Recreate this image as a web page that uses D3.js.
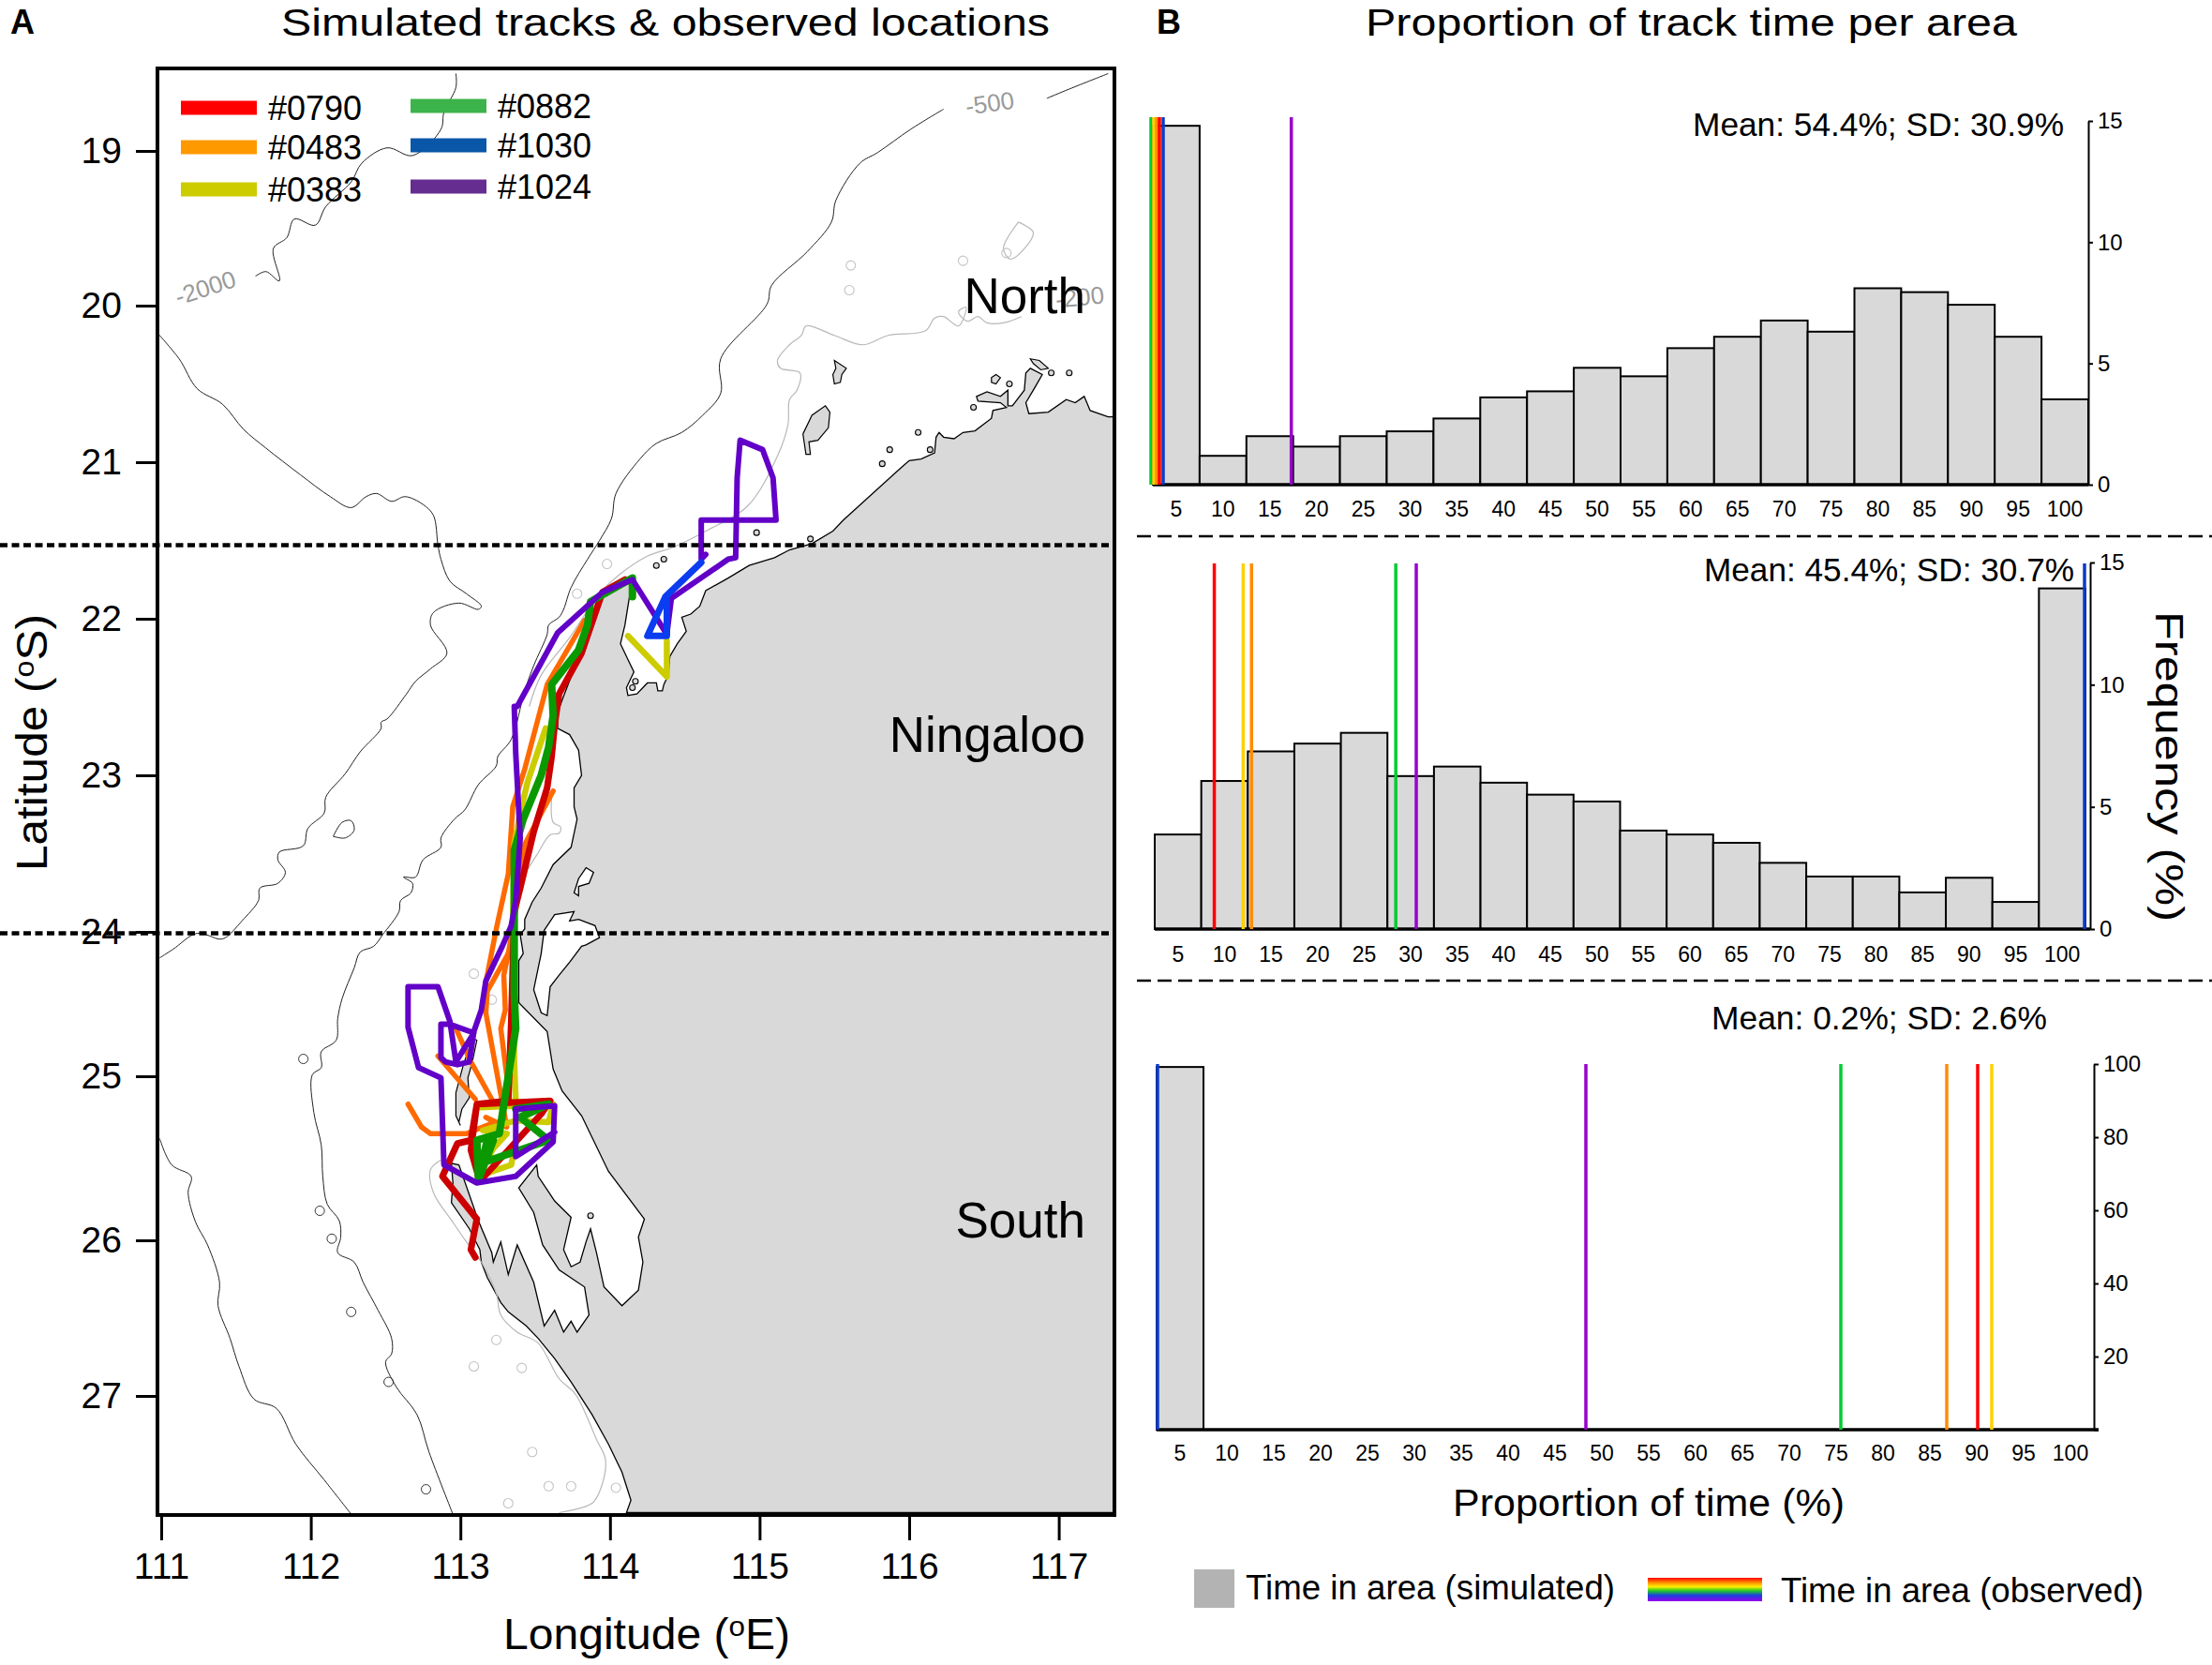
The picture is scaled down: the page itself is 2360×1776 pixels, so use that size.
<!DOCTYPE html>
<html><head><meta charset="utf-8">
<script src="https://d3js.org/d3.v7.min.js"></script>
<style>html,body{margin:0;padding:0;background:#fff}svg{display:block}text{font-family:"Liberation Sans",Arial,sans-serif;fill:#000}</style>
</head><body>
<script>
// ---------- map data (lon, lat) ----------
const lonTicks=[111,112,113,114,115,116,117];
const latTicks=[19,20,21,22,23,24,25,26,27];
const land=[[117.37,20.71],[117.33,20.71],[117.21,20.67],[117.17,20.58],[117.11,20.62],[117.05,20.60],[116.93,20.68],[116.80,20.69],[116.78,20.62],[116.83,20.54],[116.89,20.44],[116.81,20.40],[116.78,20.43],[116.77,20.54],[116.69,20.64],[116.66,20.64],[116.66,20.54],[116.61,20.58],[116.52,20.55],[116.45,20.58],[116.46,20.61],[116.61,20.62],[116.65,20.65],[116.56,20.67],[116.55,20.72],[116.44,20.80],[116.36,20.81],[116.30,20.85],[116.23,20.84],[116.20,20.81],[116.18,20.84],[116.17,20.94],[116.08,20.98],[116.00,20.99],[115.94,21.04],[115.56,21.37],[115.49,21.44],[115.35,21.52],[115.20,21.56],[115.10,21.61],[114.93,21.66],[114.79,21.74],[114.64,21.82],[114.60,21.92],[114.54,21.97],[114.48,21.99],[114.51,22.08],[114.45,22.16],[114.40,22.24],[114.39,22.36],[114.36,22.42],[114.35,22.46],[114.32,22.46],[114.31,22.41],[114.25,22.41],[114.18,22.48],[114.12,22.49],[114.11,22.44],[114.16,22.34],[114.12,22.26],[114.07,22.16],[114.10,22.04],[114.13,21.86],[114.15,21.76],[113.96,21.84],[113.89,21.96],[113.83,22.16],[113.76,22.32],[113.68,22.52],[113.65,22.60],[113.65,22.70],[113.73,22.74],[113.79,22.84],[113.81,23.00],[113.76,23.08],[113.76,23.20],[113.78,23.28],[113.74,23.46],[113.62,23.57],[113.54,23.72],[113.48,23.81],[113.43,23.92],[113.43,23.98],[113.40,24.02],[113.42,24.15],[113.39,24.20],[113.39,24.49],[113.58,24.69],[113.62,24.95],[113.68,25.09],[113.81,25.24],[113.99,25.58],[114.23,25.87],[114.19,25.98],[114.22,26.14],[114.19,26.32],[114.08,26.42],[113.96,26.30],[113.91,26.08],[113.87,25.93],[113.84,26.01],[113.80,26.14],[113.74,26.17],[113.69,26.06],[113.74,25.86],[113.63,25.76],[113.52,25.61],[113.51,25.54],[113.39,25.68],[113.49,25.83],[113.55,26.03],[113.66,26.19],[113.83,26.30],[113.86,26.48],[113.78,26.59],[113.74,26.52],[113.69,26.59],[113.63,26.45],[113.56,26.55],[113.49,26.27],[113.38,26.03],[113.32,26.22],[113.27,26.01],[113.22,26.14],[113.21,26.08],[113.12,25.88],[112.99,25.54],[112.94,25.53],[112.95,25.65],[112.94,25.77],[113.06,25.93],[113.13,26.06],[113.14,26.14],[113.18,26.24],[113.27,26.40],[113.32,26.46],[113.44,26.55],[113.52,26.63],[113.63,26.76],[113.74,26.91],[113.88,27.12],[113.99,27.31],[114.08,27.49],[114.14,27.67],[114.11,27.75],[117.37,27.75]];
const inletMain=[[113.56,23.99],[113.63,23.89],[113.76,23.87],[113.73,23.93],[113.79,23.92],[113.90,23.96],[113.93,24.04],[113.84,24.09],[113.81,24.10],[113.73,24.21],[113.66,24.30],[113.60,24.38],[113.58,24.58],[113.54,24.56],[113.49,24.40],[113.54,24.15]];
const inletSmall=[[113.84,23.59],[113.89,23.62],[113.86,23.69],[113.79,23.71],[113.79,23.77],[113.76,23.75],[113.79,23.66]];
const islandBarrow=[[115.44,20.64],[115.47,20.68],[115.46,20.78],[115.39,20.86],[115.33,20.87],[115.34,20.95],[115.31,20.95],[115.29,20.82],[115.35,20.70]];
const islandMonte=[[115.50,20.35],[115.58,20.40],[115.55,20.44],[115.54,20.49],[115.50,20.50],[115.49,20.44],[115.51,20.40]];
const islandA=[[116.55,20.46],[116.58,20.44],[116.61,20.46],[116.58,20.50],[116.55,20.49]];
const islandB=[[116.81,20.34],[116.87,20.35],[116.93,20.40],[116.88,20.41],[116.83,20.37]];
const islandBernier=[[113.08,24.74],[113.11,24.75],[113.08,24.90],[113.05,25.01],[113.06,25.13],[113.01,25.20],[112.99,25.28],[113.00,25.30],[112.97,25.24],[112.97,25.10],[113.02,24.92]];
const islandDot=[[116.95,20.43],[116.67,20.50],[116.43,20.65],[116.06,20.81],[115.87,20.92],[116.14,20.92],[115.82,21.01],[114.98,21.45],[115.34,21.49],[114.36,21.62],[114.31,21.66],[114.17,22.40],[114.15,22.44],[117.07,20.43],[113.87,25.85]];
const deep2000A=[[112.97,18.50],[112.97,18.59],[112.89,18.75],[112.87,18.86],[112.68,19.03],[112.51,18.98],[112.34,19.08],[112.27,19.20],[112.10,19.36],[112.03,19.48],[111.89,19.44],[111.84,19.56],[111.75,19.63],[111.79,19.84],[111.70,19.78],[111.63,19.81]];
const deep2000B=[[110.97,20.17],[111.12,20.34],[111.24,20.53],[111.41,20.63],[111.55,20.79],[111.70,20.91],[111.93,21.08],[112.13,21.22],[112.27,21.29],[112.37,21.22],[112.44,21.20],[112.54,21.25],[112.63,21.22],[112.75,21.27],[112.82,21.34],[112.85,21.53],[112.87,21.62],[112.93,21.76],[113.04,21.84],[113.14,21.92],[113.12,21.94],[112.99,21.90],[112.82,21.96],[112.80,22.04],[112.91,22.22],[112.80,22.32],[112.70,22.40],[112.64,22.48],[112.51,22.64],[112.47,22.66],[112.47,22.70],[112.33,22.85],[112.23,22.99],[112.10,23.14],[112.09,23.24],[111.98,23.34],[111.95,23.45],[111.79,23.49],[111.78,23.54],[111.83,23.62],[111.78,23.69],[111.66,23.72],[111.65,23.80],[111.54,23.93],[111.43,24.04],[111.39,24.05],[111.24,24.01],[111.08,24.12],[110.99,24.18]];
const deep2000Loop=[[112.15,23.39],[112.21,23.30],[112.27,23.29],[112.29,23.35],[112.23,23.40],[112.15,23.39]];
const deep2000C=[[110.99,25.38],[111.07,25.54],[111.20,25.61],[111.18,25.71],[111.23,25.89],[111.31,26.03],[111.39,26.27],[111.38,26.42],[111.46,26.63],[111.52,26.81],[111.62,27.02],[111.77,27.08],[111.90,27.31],[112.09,27.54],[112.27,27.76]];
const slope500A=[[117.33,18.50],[117.07,18.60],[116.92,18.66]];
const slope500B=[[116.23,18.73],[116.01,18.86],[115.79,19.01],[115.67,19.08],[115.51,19.32],[115.48,19.46],[115.32,19.65],[115.08,19.87],[115.05,19.99],[114.74,20.34],[114.74,20.56],[114.62,20.70],[114.48,20.81],[114.31,20.88],[114.20,20.98],[114.04,21.20],[114.01,21.36],[113.93,21.50],[113.85,21.62],[113.74,21.80],[113.69,21.94],[113.66,21.99],[113.59,22.04],[113.58,22.10],[113.49,22.30],[113.43,22.46],[113.34,22.77],[113.25,22.88],[113.24,22.94],[113.12,23.06],[113.03,23.22],[112.96,23.28],[112.87,23.40],[112.87,23.46],[112.75,23.54],[112.70,23.65],[112.62,23.65],[112.68,23.69],[112.67,23.75],[112.60,23.80],[112.59,23.87],[112.48,24.02],[112.42,24.10],[112.33,24.14],[112.29,24.25],[112.21,24.46],[112.18,24.60],[112.17,24.75],[112.07,24.83],[112.07,24.94],[112.01,24.99],[112.02,25.22],[112.07,25.42],[112.08,25.61],[112.11,25.78],[112.19,25.88],[112.20,25.98],[112.18,26.08],[112.29,26.14],[112.35,26.27],[112.45,26.45],[112.54,26.63],[112.54,26.73],[112.50,26.78],[112.57,26.94],[112.71,27.12],[112.79,27.36],[112.95,27.76]];
const slope500Loops=[[111.95,24.88],[112.06,25.82],[112.14,25.99],[112.27,26.46],[112.52,26.91],[112.77,27.60]];
const shelf200A=[[116.75,20.07],[116.63,20.11],[116.52,20.11],[116.46,20.07],[116.39,20.10],[116.33,20.04],[116.38,20.01],[116.33,20.13],[116.23,20.07],[116.17,20.08],[116.11,20.16],[115.86,20.19],[115.69,20.25],[115.50,20.19],[115.31,20.13],[115.28,20.19],[115.20,20.25],[115.12,20.35],[115.14,20.40],[115.27,20.43],[115.25,20.54],[115.20,20.60],[115.19,20.76],[115.12,20.96],[114.92,21.28],[114.64,21.44],[114.43,21.54],[114.25,21.60],[114.06,21.72],[113.93,21.84],[113.73,22.12],[113.54,22.36],[113.46,22.56]];
const shelf200B=[[113.61,23.14],[113.62,23.30],[113.67,23.33],[113.66,23.37],[113.60,23.38],[113.51,23.51],[113.45,23.60]];
const shelf200C=[[112.87,25.51],[112.80,25.57],[112.82,25.71],[112.95,25.89],[113.04,26.01],[113.14,26.14],[113.24,26.34],[113.27,26.48],[113.38,26.59],[113.52,26.66],[113.66,26.89],[113.77,26.99],[113.91,27.28],[113.97,27.41],[113.94,27.59],[113.88,27.69],[113.66,27.75]];
const shelf200D=[[116.73,19.46],[116.83,19.53],[116.68,19.70],[116.63,19.63],[116.73,19.46]];
const shelf200Loops=[[113.09,26.81],[113.41,26.82],[113.24,26.64],[113.48,27.36],[113.74,27.58],[114.04,27.59],[113.32,27.69],[113.59,27.58],[115.61,19.74],[115.60,19.90],[116.36,19.71],[116.65,19.66],[113.09,24.29],[113.21,24.47],[113.98,21.65],[113.78,21.84]];
// ---------- tracks (lon, lat) ----------
const track0483=[[[113.83,22.01],[113.58,22.42],[113.43,22.96],[113.35,23.20],[113.32,23.63],[113.24,23.98],[113.17,24.35],[113.17,24.56],[113.27,25.11],[113.31,25.31],[113.17,25.25],[113.23,25.28],[113.04,25.35],[112.80,25.35],[112.74,25.31],[112.65,25.17]],
[[113.62,23.10],[113.43,23.44],[113.39,23.75],[113.32,24.15],[113.29,24.30],[113.30,24.54],[113.27,24.67],[113.32,25.07]],
[[113.32,24.15],[113.18,24.41],[113.17,24.56]],
[[112.97,24.67],[113.07,24.90],[113.21,25.14]],
[[112.85,24.86],[113.10,25.14]]];
const track0383=[[[114.12,22.11],[114.38,22.37],[114.38,22.14]],
[[113.57,22.70],[113.45,23.04],[113.40,23.24],[113.36,23.44],[113.35,24.04],[113.36,24.90],[113.37,25.15],[113.13,25.19],[113.62,25.17],[113.59,25.28],[113.37,25.27],[113.15,25.33],[113.31,25.35],[113.22,25.44],[113.12,25.61],[113.34,25.54],[113.36,25.44]]];
const track0790=[[[114.10,21.75],[113.95,21.83],[113.91,21.94],[113.81,22.22],[113.66,22.48],[113.63,22.68],[113.61,22.88],[113.58,23.08],[113.49,23.36],[113.40,23.72],[113.36,23.87],[113.34,24.62],[113.32,25.15],[113.11,25.17],[113.07,25.45],[113.13,25.64],[113.54,25.23],[113.60,25.15],[113.11,25.17],[113.07,25.39],[112.98,25.41],[112.88,25.61],[113.11,25.87],[113.07,26.06],[113.10,26.11]]];
const track0882=[[[114.15,21.86],[114.15,21.74],[113.87,21.89],[113.85,22.04],[113.79,22.20],[113.61,22.42],[113.62,22.62],[113.59,22.82],[113.54,23.00],[113.42,23.28],[113.36,23.48],[113.36,24.43],[113.37,24.67],[113.26,25.35],[113.11,25.39],[113.12,25.62],[113.18,25.39],[113.13,25.61],[113.22,25.39],[113.14,25.53],[113.59,25.39],[113.40,25.25],[113.59,25.17],[113.37,25.20]]];
const track1030=[[[114.61,21.64],[114.37,21.86],[114.25,22.11],[114.38,22.11],[114.38,21.87]]];
const track1024=[[[114.64,21.59],[114.61,21.62],[114.61,21.37],[115.11,21.37],[115.09,21.10],[115.02,20.92],[114.87,20.86],[114.85,21.10],[114.84,21.61],[114.79,21.62],[114.41,21.87],[114.38,22.10],[114.15,21.75],[113.95,21.83],[113.65,22.09],[113.38,22.56],[113.36,22.56],[113.37,22.86],[113.40,23.40],[113.37,23.80],[113.34,23.96],[113.28,24.10],[113.17,24.34],[113.14,24.54],[113.09,24.69],[113.06,24.90],[112.98,24.92],[112.90,24.90],[112.87,24.87],[112.87,24.64],[112.93,24.64],[113.09,24.70],[112.97,24.90],[112.93,24.62],[112.85,24.38],[112.65,24.38],[112.65,24.66],[112.72,24.94],[112.87,25.01],[112.89,25.54],[113.11,25.65],[113.37,25.61],[113.62,25.40],[113.63,25.18],[113.37,25.20],[113.37,25.49],[113.63,25.34]]];
const tagIds=["#0790","#0483","#0383","#0882","#1030","#1024"];
const regionNames=["North","Ningaloo","South"];
const regionLats=[20.05,22.85,25.98];
const dividerLats=[21.53,24.01];
// ---------- histogram data ----------
const binLabels=[5,10,15,20,25,30,35,40,45,50,55,60,65,70,75,80,85,90,95,100];
const freqNorth=[14.8,1.19,2.0,1.57,2.0,2.2,2.73,3.6,3.85,4.82,4.47,5.63,6.1,6.77,6.31,8.1,7.94,7.42,6.1,3.52];
const freqNingaloo=[3.87,6.06,7.27,7.59,8.03,6.26,6.65,5.99,5.5,5.22,4.03,3.87,3.53,2.71,2.15,2.15,1.5,2.1,1.11,13.94];
const freqSouth=[99.2,0,0,0,0,0,0,0,0,0,0,0,0,0,0,0,0,0,0,0];
const obsNorth=[0.7,0.4,0.1,-0.2,1.1,14.8];
const obsNingaloo=[6.4,10.4,9.5,25.9,99.9,28.1];
const obsSouth=[87.6,84.3,89.1,73,0.1,45.8];
const ticksNorth=[0,5,10,15],ticksNingaloo=[0,5,10,15],ticksSouth=[0,20,40,60,80,100];
const statNorth="Mean: 54.4%; SD: 30.9%",statNingaloo="Mean: 45.4%; SD: 30.7%",statSouth="Mean: 0.2%; SD: 2.6%";

const W=2360,H=1776;
const svg=d3.select("body").append("svg").attr("width",W).attr("height",H).attr("viewBox",`0 0 ${W} ${H}`);
const defs=svg.append("defs");
const F={l:168,t:73,r:1189,b:1616};
defs.append("clipPath").attr("id","mapclip").append("rect").attr("x",F.l).attr("y",F.t).attr("width",F.r-F.l).attr("height",F.b-F.t);
const grad=defs.append("linearGradient").attr("id","rainbow").attr("x1",0).attr("x2",0).attr("y1",0).attr("y2",1);
[["0%","#ff0000"],["22%","#ff9900"],["38%","#ffee00"],["55%","#22cc22"],["75%","#1a40e0"],["100%","#9900ee"]].forEach(s=>grad.append("stop").attr("offset",s[0]).attr("stop-color",s[1]));

// ---------- MAP ----------
const xm=d3.scaleLinear().domain([111,117]).range([172,1129.6]);
const ym=d3.scaleLinear().domain(latTicks).range([161,326,493,660,827,994,1148,1323,1489]);
const line=d3.line().x(d=>xm(d[0])).y(d=>ym(d[1]));
const smooth=d3.line().x(d=>xm(d[0])).y(d=>ym(d[1])).curve(d3.curveCatmullRom.alpha(0.5));
const map=svg.append("g").attr("clip-path","url(#mapclip)");
map.append("path").attr("d",line(land)+"Z").attr("fill","#d9d9d9").attr("stroke","#000").attr("stroke-width",1.3);
[inletMain,inletSmall].forEach(p=>map.append("path").attr("d",line(p)+"Z").attr("fill","#fff").attr("stroke","#000").attr("stroke-width",1.3));
[islandBarrow,islandMonte,islandA,islandB,islandBernier].forEach(p=>map.append("path").attr("d",line(p)+"Z").attr("fill","#d9d9d9").attr("stroke","#000").attr("stroke-width",1.2));
map.selectAll("circle.dot").data(islandDot).join("circle").attr("class","dot").attr("cx",d=>xm(d[0])).attr("cy",d=>ym(d[1])).attr("r",3).attr("fill","#d9d9d9").attr("stroke","#000").attr("stroke-width",1.1);
[deep2000A,deep2000B,deep2000Loop,deep2000C,slope500A,slope500B].forEach(p=>map.append("path").attr("d",smooth(p)).attr("fill","none").attr("stroke","#222").attr("stroke-width",1));
map.selectAll("circle.s5").data(slope500Loops).join("circle").attr("class","s5").attr("cx",d=>xm(d[0])).attr("cy",d=>ym(d[1])).attr("r",5).attr("fill","none").attr("stroke","#333").attr("stroke-width",1);
[shelf200A,shelf200B,shelf200C,shelf200D].forEach(p=>map.append("path").attr("d",smooth(p)).attr("fill","none").attr("stroke","#b8b8b8").attr("stroke-width",1.2));
map.selectAll("circle.s2").data(shelf200Loops).join("circle").attr("class","s2").attr("cx",d=>xm(d[0])).attr("cy",d=>ym(d[1])).attr("r",5).attr("fill","none").attr("stroke","#c4c4c4").attr("stroke-width",1.1);
// contour labels
[["-500",1056,110,-8],["-2000",219,307,-18],["-200",1152,317,-6]].forEach(c=>map.append("text").attr("transform",`translate(${c[1]},${c[2]}) rotate(${c[3]})`).attr("text-anchor","middle").attr("dy",".35em").attr("font-size",26).style("fill","#9a9a9a").text(c[0]));
// tracks
const trackColor={t0483:"#ff6a00",t0383:"#cccc00",t0790:"#cc0000",t0882:"#0a9900",t1024:"#6200c8",t1030:"#0a3cf0"};
const trackWidth={t0483:5.5,t0383:6.5,t0790:7,t0882:8,t1024:6,t1030:7};
[[track0483,"t0483"],[track0383,"t0383"],[track0790,"t0790"],[track0882,"t0882"],[track1024,"t1024"],[track1030,"t1030"]].forEach(([segs,k])=>{
  map.append("g").selectAll("path").data(segs).join("path").attr("d",line).attr("fill","none").attr("stroke",trackColor[k]).attr("stroke-width",trackWidth[k]).attr("stroke-linejoin","round").attr("stroke-linecap","round");
});
// frame
svg.append("rect").attr("x",F.l).attr("y",F.t).attr("width",F.r-F.l).attr("height",F.b-F.t).attr("fill","none").attr("stroke","#000").attr("stroke-width",4);
// dividers
dividerLats.forEach(v=>svg.append("line").attr("x1",0).attr("x2",F.r).attr("y1",ym(v)).attr("y2",ym(v)).attr("stroke","#000").attr("stroke-width",4.5).attr("stroke-dasharray","8 4.5"));
// axes
const axL=svg.append("g").attr("transform",`translate(${F.l},0)`).call(d3.axisLeft(ym).tickValues(latTicks).tickFormat(d3.format("d")).tickSize(23).tickPadding(15));
const axB=svg.append("g").attr("transform",`translate(0,${F.b})`).call(d3.axisBottom(xm).tickValues(lonTicks).tickFormat(d3.format("d")).tickSize(27).tickPadding(13));
[axL,axB].forEach(a=>{a.select(".domain").remove();a.selectAll("line").attr("stroke","#000").attr("stroke-width",3);a.selectAll("text").attr("font-size",39).attr("font-family",null);});
// region labels
regionNames.forEach((n,i)=>svg.append("text").attr("x",1158).attr("y",ym(regionLats[i])).attr("text-anchor","end").attr("font-size",53).text(n));
// map legend
const legColors=["#ff0000","#ff9900","#cccc00","#3cb44b","#0a56a8","#662d91"];
const legPos=[[193,115],[193,157],[193,202],[438,113],[438,155],[438,199]];
tagIds.forEach((t,i)=>{
  svg.append("rect").attr("x",legPos[i][0]).attr("y",legPos[i][1]-7.5).attr("width",81).attr("height",15).attr("fill",legColors[i]);
  svg.append("text").attr("x",legPos[i][0]+93).attr("y",legPos[i][1]).attr("dy",".36em").attr("font-size",36).text(t);
});
// map titles
svg.append("text").attr("x",11).attr("y",36).attr("font-size",36).attr("font-weight","bold").text("A");
svg.append("text").attr("x",300).attr("y",38).attr("font-size",41).attr("textLength",820).attr("lengthAdjust","spacingAndGlyphs").text("Simulated tracks & observed locations");
const lonT=svg.append("text").attr("x",537).attr("y",1759).attr("font-size",46).attr("textLength",306).attr("lengthAdjust","spacingAndGlyphs");
lonT.append("tspan").text("Longitude (");lonT.append("tspan").attr("dy",-14).attr("font-size",30).text("o");lonT.append("tspan").attr("dy",14).text("E)");
const latT=svg.append("text").attr("transform","translate(50,929) rotate(-90)").attr("font-size",46).attr("textLength",274).attr("lengthAdjust","spacingAndGlyphs");
latT.append("tspan").text("Latitude (");latT.append("tspan").attr("dy",-14).attr("font-size",30).text("o");latT.append("tspan").attr("dy",14).text("S)");

// ---------- HISTOGRAMS ----------
const obsColor=["#ff0000","#ff8c00","#ffd000","#00cc33","#0a3cc8","#9900cc"];
const drawOrder=[3,2,1,0,4,5];
function panel(o){
  const xb=d3.scaleBand().domain(binLabels).range([o.x0,o.x100]).paddingInner(0).paddingOuter(0);
  const xv=d3.scaleLinear().domain([0,100]).range([o.x0,o.x100]);
  const y=d3.scaleLinear().domain([0,o.ymax]).range([o.y0,o.ytop]);
  const g=svg.append("g");
  g.selectAll("rect").data(o.freq.map((v,i)=>({v,b:binLabels[i]})).filter(d=>d.v>0)).join("rect")
    .attr("x",d=>xb(d.b)).attr("width",xb.bandwidth()).attr("y",d=>y(d.v)).attr("height",d=>y(0)-y(d.v))
    .attr("fill","#d9d9d9").attr("stroke","#000").attr("stroke-width",2);
  g.append("line").attr("x1",xb(binLabels[0])).attr("x2",o.axisX+(o.extend||0)).attr("y1",y(0)).attr("y2",y(0)).attr("stroke","#000").attr("stroke-width",3.5);
  drawOrder.forEach(i=>g.append("line").attr("x1",xv(o.obs[i])).attr("x2",xv(o.obs[i])).attr("y1",y(0)).attr("y2",o.lineTop).attr("stroke",obsColor[i]).attr("stroke-width",3.5));
  const ax=svg.append("g").attr("transform",`translate(${o.axisX},0)`).call(d3.axisRight(y).tickValues(o.ticks).tickSize(5).tickSizeOuter(0).tickPadding(5).tickFormat(d=>o.hideZero&&d===0?"":d));
  ax.select(".domain").attr("stroke","#000").attr("stroke-width",2);
  ax.selectAll("line").attr("stroke","#000").attr("stroke-width",2);
  ax.selectAll("text").attr("font-size",o.tickFont).attr("font-family",null);
  const bx=svg.append("g").attr("transform",`translate(${o.labelShift||0},${o.y0})`).call(d3.axisBottom(xb).tickSize(0).tickPadding(o.labelPad));
  bx.select(".domain").remove();
  bx.selectAll("text").attr("font-size",23).attr("font-family",null);
  svg.append("text").attr("x",o.statX).attr("y",o.statY).attr("dy",".36em").attr("font-size",35).attr("textLength",o.statLen).attr("lengthAdjust","spacingAndGlyphs").text(o.stat);
}
panel({freq:freqNorth,obs:obsNorth,ticks:ticksNorth,ymax:15,x0:1230,x100:2228,y0:517,ytop:129,axisX:2228,lineTop:125,tickFont:24,labelPad:18,stat:statNorth,statX:1806,statY:132,statLen:396});
panel({freq:freqNingaloo,obs:obsNingaloo,ticks:ticksNingaloo,ymax:15,x0:1232,x100:2225,y0:991,ytop:600,axisX:2230,lineTop:601,tickFont:24,labelPad:19,stat:statNingaloo,statX:1818,statY:607,statLen:395});
panel({freq:freqSouth,obs:obsSouth,ticks:ticksSouth,ymax:100,x0:1234,x100:2234,y0:1525,ytop:1135,axisX:2234,extend:5,lineTop:1135,tickFont:24,labelPad:17,labelShift:0,hideZero:true,stat:statSouth,statX:1826,statY:1085,statLen:358});
[572,1046].forEach(v=>svg.append("line").attr("x1",1213).attr("x2",W).attr("y1",v).attr("y2",v).attr("stroke","#000").attr("stroke-width",2.5).attr("stroke-dasharray","15 7"));
svg.append("text").attr("x",1234).attr("y",36).attr("font-size",36).attr("font-weight","bold").text("B");
svg.append("text").attr("x",1457).attr("y",38).attr("font-size",41).attr("textLength",695).attr("lengthAdjust","spacingAndGlyphs").text("Proportion of track time per area");
svg.append("text").attr("transform","translate(2300,652) rotate(90)").attr("font-size",42).attr("textLength",331).attr("lengthAdjust","spacingAndGlyphs").text("Frequency (%)");
svg.append("text").attr("x",1550).attr("y",1617).attr("font-size",41).attr("textLength",418).attr("lengthAdjust","spacingAndGlyphs").text("Proportion of time (%)");
svg.append("rect").attr("x",1274).attr("y",1674).attr("width",43).attr("height",41).attr("fill","#b3b3b3");
svg.append("text").attr("x",1329).attr("y",1693).attr("dy",".36em").attr("font-size",37).attr("textLength",394).attr("lengthAdjust","spacingAndGlyphs").text("Time in area (simulated)");
svg.append("rect").attr("x",1758).attr("y",1683).attr("width",122).attr("height",25).attr("fill","url(#rainbow)");
svg.append("text").attr("x",1900).attr("y",1696).attr("dy",".36em").attr("font-size",37).attr("textLength",387).attr("lengthAdjust","spacingAndGlyphs").text("Time in area (observed)");
</script>
</body></html>
